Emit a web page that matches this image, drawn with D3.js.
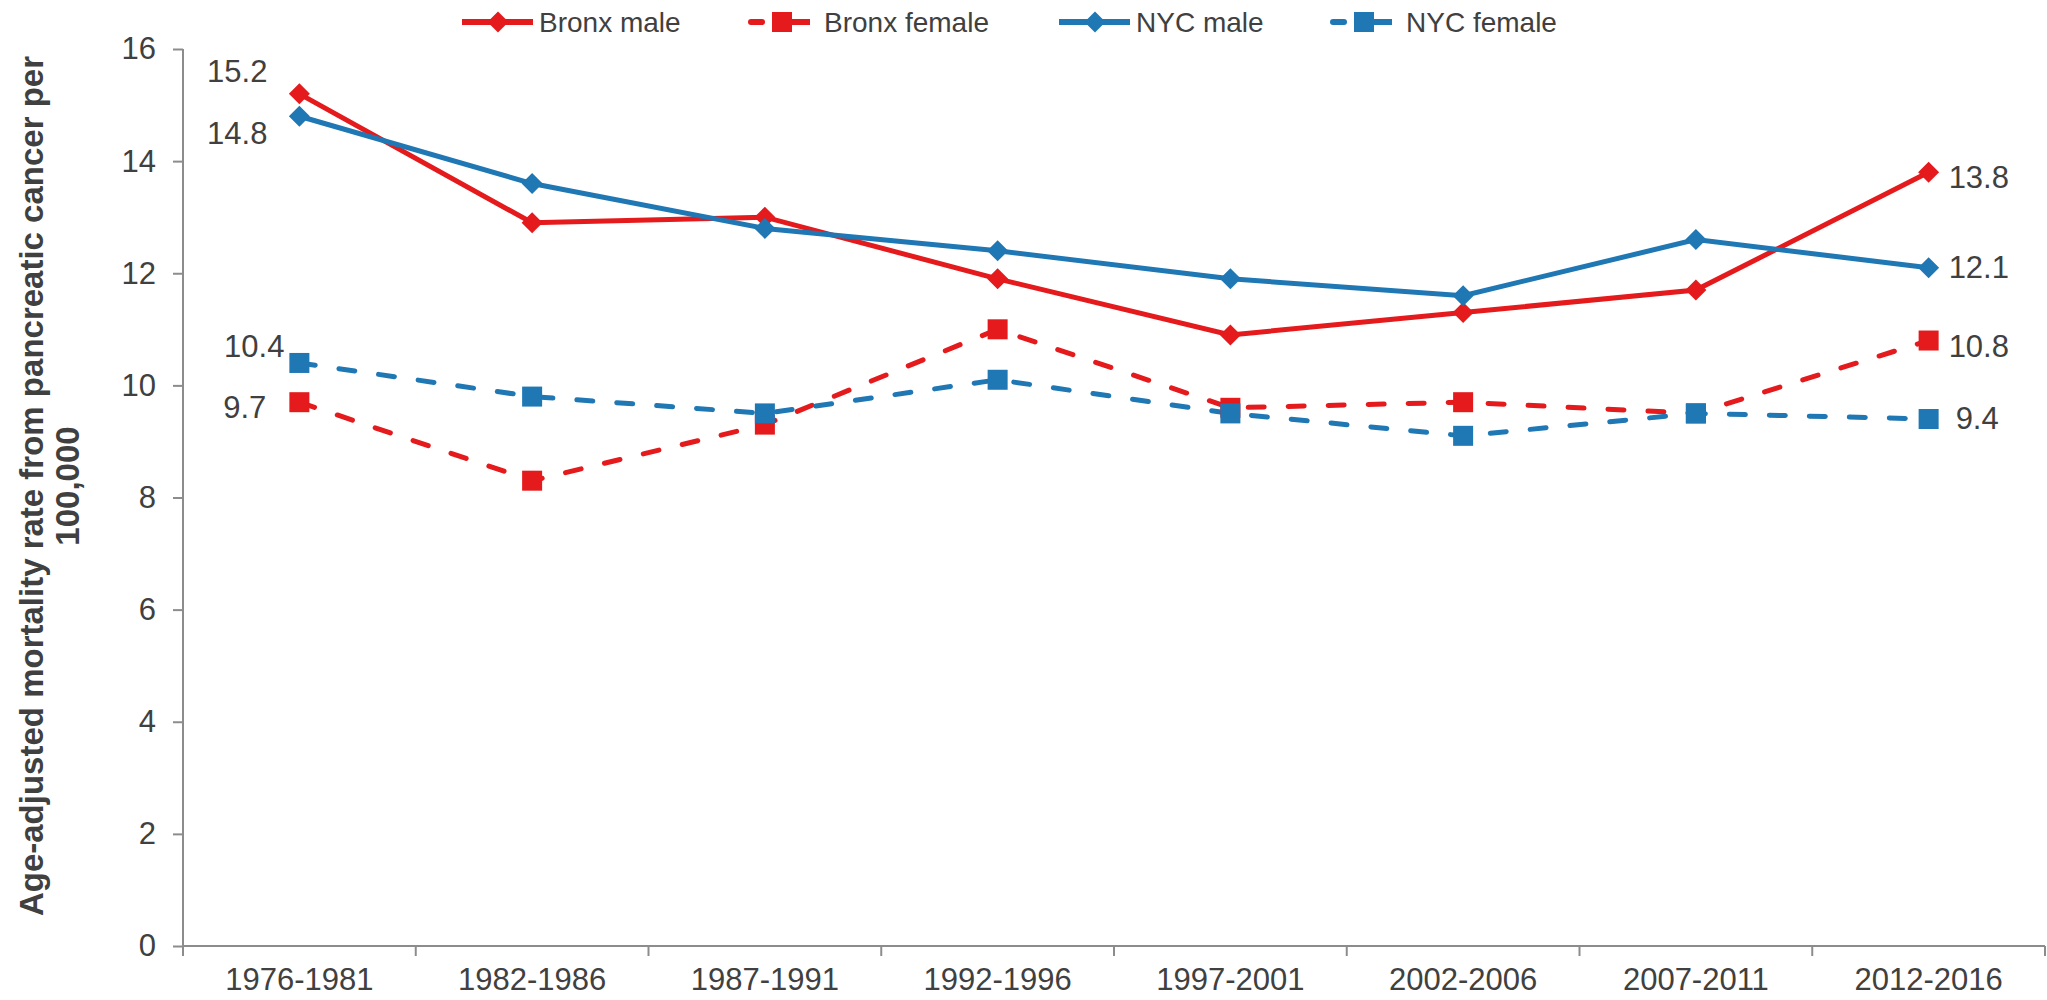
<!DOCTYPE html>
<html>
<head>
<meta charset="utf-8">
<script src="https://cdn.jsdelivr.net/npm/d3@7"></script>
<style>
  body { margin: 0; background: #fff; }
  svg { display: block; font-family: "Liberation Sans", Arial, sans-serif; }
</style>
</head>
<body>
<svg width="2047" height="1000"></svg>
<script>
var periods = ["1976-1981", "1982-1986", "1987-1991", "1992-1996", "1997-2001", "2002-2006", "2007-2011", "2012-2016"];
var bronxMale   = [15.2, 12.9, 13.0, 11.9, 10.9, 11.3, 11.7, 13.8];
var bronxFemale = [9.7, 8.3, 9.3, 11.0, 9.6, 9.7, 9.5, 10.8];
var nycMale     = [14.8, 13.6, 12.8, 12.4, 11.9, 11.6, 12.6, 12.1];
var nycFemale   = [10.4, 9.8, 9.5, 10.1, 9.5, 9.1, 9.5, 9.4];
var yTicks = [0, 2, 4, 6, 8, 10, 12, 14, 16];

var red = "#e41a1c", blue = "#1f77b4", textCol = "#404040", axisCol = "#8c8c8c";

var series = [
  {name: "Bronx male",   values: bronxMale,   color: red,  dashed: false, marker: "diamond"},
  {name: "Bronx female", values: bronxFemale, color: red,  dashed: true,  marker: "square"},
  {name: "NYC male",     values: nycMale,     color: blue, dashed: false, marker: "diamond"},
  {name: "NYC female",   values: nycFemale,   color: blue, dashed: true,  marker: "square"}
];

var svg = d3.select("svg");
var plotL = 183, plotR = 2045, plotT = 49, plotB = 946;

var x = d3.scaleBand().domain(periods).range([plotL, plotR]);
var y = d3.scaleLinear().domain([0, 16]).range([plotB, plotT]);
var cx = function(i) { return x(periods[i]) + x.bandwidth() / 2; };

// y axis
var yAxis = svg.append("g")
    .attr("transform", "translate(" + plotL + ",0)")
    .call(d3.axisLeft(y).tickValues(yTicks).tickSize(10).tickPadding(17));
yAxis.select(".domain").attr("stroke", axisCol).attr("stroke-width", 2).attr("d", "M0," + plotB + "V" + plotT);
yAxis.selectAll(".tick line").attr("stroke", axisCol).attr("stroke-width", 2);
yAxis.selectAll(".tick text").attr("fill", textCol).style("font-size", "31px");

// x axis
var xAxis = svg.append("g")
    .attr("transform", "translate(0," + plotB + ")")
    .call(d3.axisBottom(x).tickSize(0).tickPadding(22));
xAxis.select(".domain").attr("stroke", axisCol).attr("stroke-width", 2).attr("d", "M" + plotL + ",0H" + plotR);
xAxis.selectAll(".tick text").attr("fill", textCol).style("font-size", "31px");
xAxis.selectAll("line.bound")
  .data(d3.range(periods.length + 1))
  .enter().append("line")
    .attr("class", "bound")
    .attr("x1", function(i) { return plotL + i * x.step(); })
    .attr("x2", function(i) { return plotL + i * x.step(); })
    .attr("y1", 0).attr("y2", 10)
    .attr("stroke", axisCol).attr("stroke-width", 2);

// y axis title
svg.append("text")
    .attr("transform", "translate(43,486) rotate(-90)")
    .attr("text-anchor", "middle")
    .attr("fill", textCol)
    .style("font-size", "33px").style("font-weight", "bold")
    .selectAll("tspan")
    .data(["Age-adjusted mortality rate from pancreatic cancer per", "100,000"])
    .enter().append("tspan")
      .attr("x", 0).attr("dy", function(d, i) { return i ? 36 : 0; })
      .text(function(d) { return d; });

// lines
var line = d3.line()
    .x(function(d, i) { return cx(i); })
    .y(function(d) { return y(d); });

function drawMarker(g, s, px, py) {
  if (s.marker === "diamond") {
    g.append("path").attr("d", "M0,-10.5L10.5,0L0,10.5L-10.5,0Z")
      .attr("transform", "translate(" + px + "," + py + ")")
      .attr("fill", s.color);
  } else {
    g.append("rect").attr("x", px - 10).attr("y", py - 10).attr("width", 20).attr("height", 20)
      .attr("fill", s.color);
  }
}

var order = [series[1], series[3], series[0], series[2]];
order.forEach(function(s) {
  svg.append("path")
      .datum(s.values)
      .attr("d", line)
      .attr("fill", "none")
      .attr("stroke", s.color)
      .attr("stroke-width", 5)
      .attr("stroke-linecap", s.dashed ? "round" : "butt")
      .attr("stroke-dasharray", s.dashed ? "16,24" : null);
});
order.forEach(function(s) {
  var g = svg.append("g");
  s.values.forEach(function(v, i) { drawMarker(g, s, cx(i), y(v)); });
});

// data labels at both ends
var labels = [
  {s: 0, i: 0, dx: -32, dy: -23, anchor: "end"},
  {s: 2, i: 0, dx: -32, dy: 17, anchor: "end"},
  {s: 3, i: 0, dx: -15, dy: -17, anchor: "end"},
  {s: 1, i: 0, dx: -33, dy: 5, anchor: "end"},
  {s: 0, i: 7, dx: 20, dy: 5, anchor: "start"},
  {s: 2, i: 7, dx: 20, dy: 0, anchor: "start"},
  {s: 1, i: 7, dx: 20, dy: 6, anchor: "start"},
  {s: 3, i: 7, dx: 27, dy: -1, anchor: "start"}
];
svg.selectAll("text.dl")
  .data(labels)
  .enter().append("text")
    .attr("class", "dl")
    .attr("x", function(d) { return cx(d.i) + d.dx; })
    .attr("y", function(d) { return y(series[d.s].values[d.i]) + d.dy; })
    .attr("dy", "0.35em")
    .attr("text-anchor", function(d) { return d.anchor; })
    .attr("fill", textCol)
    .style("font-size", "31px")
    .text(function(d) { return series[d.s].values[d.i].toFixed(1); });

// legend
var legendX = [462, 748, 1059, 1330];
var legend = svg.selectAll("g.legend")
  .data(series)
  .enter().append("g")
    .attr("class", "legend")
    .attr("transform", function(d, i) { return "translate(" + legendX[i] + ",22)"; });
legend.each(function(s) {
  var g = d3.select(this);
  var w = s.dashed ? 62 : 71;
  if (s.dashed) {
    g.append("line").attr("x1", 3).attr("x2", 14).attr("stroke", s.color).attr("stroke-width", 6).attr("stroke-linecap", "round");
    g.append("line").attr("x1", 40).attr("x2", w).attr("stroke", s.color).attr("stroke-width", 6).attr("stroke-linecap", "butt");
  } else {
    g.append("line").attr("x1", 0).attr("x2", w).attr("stroke", s.color).attr("stroke-width", 6);
  }
  drawMarker(g, s, s.dashed ? 34 : 36, 0);
  g.append("text").attr("x", w + (s.dashed ? 14 : 6)).attr("dy", "0.35em").attr("fill", textCol)
    .style("font-size", "28px").text(s.name);
});
</script>
</body>
</html>
